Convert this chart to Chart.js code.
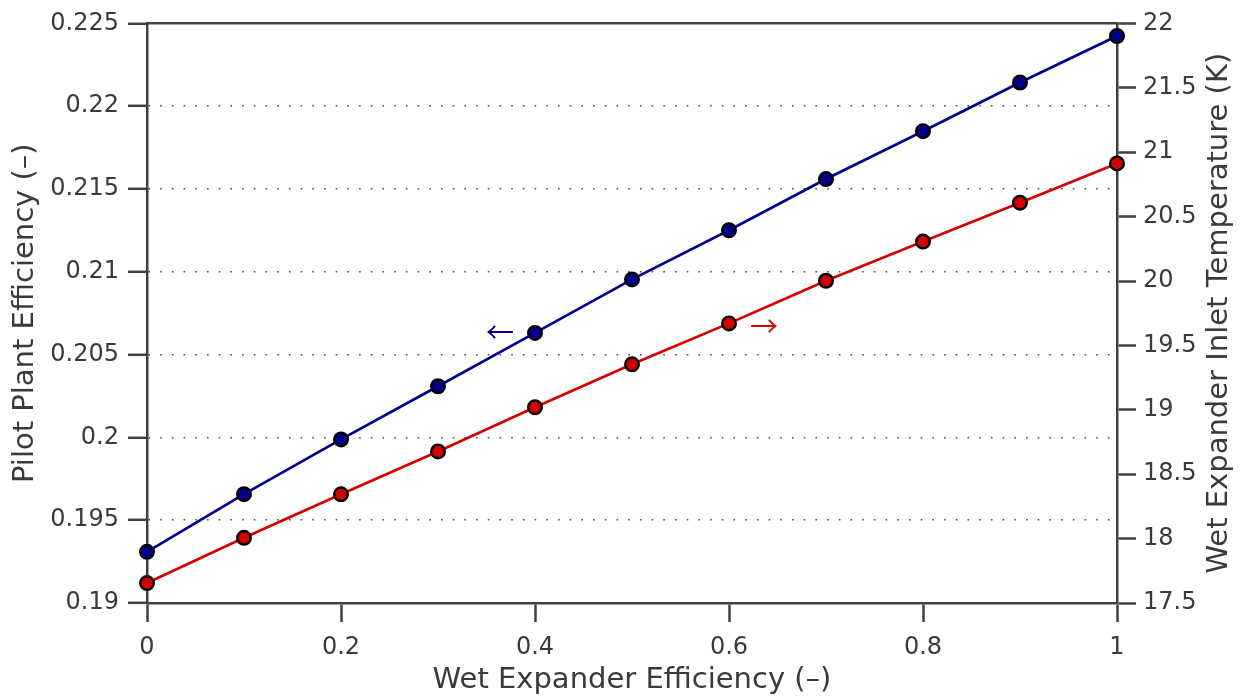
<!DOCTYPE html>
<html>
<head>
<meta charset="utf-8">
<title>Pilot Plant Efficiency vs Wet Expander Efficiency</title>
<script src="https://cdn.jsdelivr.net/npm/chart.js@4.4.1/dist/chart.umd.min.js"></script>
<style>
  html, body { margin: 0; padding: 0; background: #ffffff; }
</style>
</head>
<body>
<canvas id="effChart" width="1244" height="696"></canvas>
<script>
// ---------------------------------------------------------------------
// --- Data ---
// ---------------------------------------------------------------------

const expanderEff = [0, 0.1, 0.2, 0.3, 0.4, 0.5, 0.6, 0.7, 0.8, 0.9, 1];
const plantEff = [0.19309, 0.19657, 0.19988, 0.20309, 0.20631, 0.20954, 0.21251, 0.2156, 0.21849, 0.22143, 0.22424];
const inletTemp = [17.655, 18.006, 18.344, 18.677, 19.02, 19.353, 19.671, 20.002, 20.306, 20.608, 20.913];

const xTicks = [0, 0.2, 0.4, 0.6, 0.8, 1];
const xTickLabels = ['0', '0.2', '0.4', '0.6', '0.8', '1'];
const effTicks = [0.19, 0.195, 0.2, 0.205, 0.21, 0.215, 0.22, 0.225];
const effTickLabels = ['0.19', '0.195', '0.2', '0.205', '0.21', '0.215', '0.22', '0.225'];
const tempTicks = [17.5, 18, 18.5, 19, 19.5, 20, 20.5, 21, 21.5, 22];
const tempTickLabels = ['17.5', '18', '18.5', '19', '19.5', '20', '20.5', '21', '21.5', '22'];

// arrow markers, in data coordinates [x, y]
const effArrowAt = [0.364, 0.20633];
const tempArrowAt = [0.636, 19.645];

// ---------------------------------------------------------------------
// --- Styles ---
// ---------------------------------------------------------------------

const FONT = '"DejaVu Sans", sans-serif';
const ARROW_FONT = '"Noto Sans CJK JP", "Noto Sans CJK SC", sans-serif';
const AXIS_COLOR = '#404040';
const TEXT_COLOR = '#3a3a3a';
const BLUE = '#00008b';
const RED = '#d40000';
const TICK_LEN = 19;

Chart.defaults.font.family = FONT;
Chart.defaults.color = TEXT_COLOR;

const toPoints = (ys) => expanderEff.map((x, i) => ({ x: x, y: ys[i] }));

// solid outward ticks, solid axis line
const axisBorder = { display: true, color: AXIS_COLOR, width: 2.5 };

// ---------------------------------------------------------------------
// --- Plugin: arrows + right axis title (reads bottom to top) ---
// ---------------------------------------------------------------------

const extrasPlugin = {
    id: 'extras',
    afterDraw(chart) {
        const { ctx, chartArea, scales } = chart;
        ctx.save();
        ctx.textAlign = 'center';
        ctx.textBaseline = 'middle';
        ctx.font = '28px ' + ARROW_FONT;

        ctx.fillStyle = BLUE;
        ctx.fillText('\u2190', scales.x.getPixelForValue(effArrowAt[0]), scales.y.getPixelForValue(effArrowAt[1]));
        ctx.fillStyle = RED;
        ctx.fillText('\u2192', scales.x.getPixelForValue(tempArrowAt[0]), scales.y2.getPixelForValue(tempArrowAt[1]));

        ctx.translate(chart.width - 25, (chartArea.top + chartArea.bottom) / 2);
        ctx.rotate(-Math.PI / 2);
        ctx.font = '29px ' + FONT;
        ctx.fillStyle = TEXT_COLOR;
        ctx.fillText('Wet Expander Inlet Temperature (K)', 0, 0);
        ctx.restore();
    }
};

// ---------------------------------------------------------------------
// --- Chart ---
// ---------------------------------------------------------------------

const effChart = new Chart(document.getElementById('effChart'), {
    type: 'line',
    data: {
        datasets: [
            {
                label: 'Pilot Plant Efficiency',
                data: toPoints(plantEff),
                yAxisID: 'y',
                borderColor: BLUE,
                borderWidth: 2.7,
                pointBackgroundColor: BLUE,
                pointBorderColor: '#000000',
                pointBorderWidth: 2.4,
                pointRadius: 6.8,
                tension: 0,
                clip: false
            },
            {
                label: 'Wet Expander Inlet Temperature',
                data: toPoints(inletTemp),
                yAxisID: 'y2',
                borderColor: RED,
                borderWidth: 2.7,
                pointBackgroundColor: RED,
                pointBorderColor: '#000000',
                pointBorderWidth: 2.4,
                pointRadius: 6.8,
                tension: 0,
                clip: false
            }
        ]
    },
    options: {
        responsive: false,
        animation: false,
        devicePixelRatio: 1,
        layout: { padding: 0 },
        plugins: {
            legend: { display: false },
            tooltip: { enabled: false }
        },
        scales: {
            x: {
                type: 'linear',
                position: 'bottom',
                min: 0,
                max: 1,
                afterBuildTicks: (scale) => { scale.ticks = xTicks.map(v => ({ value: v })); },
                afterFit: (scale) => { scale.height = 93; },
                ticks: {
                    padding: 11,
                    font: { size: 24 },
                    callback: (value, index) => xTickLabels[index]
                },
                grid: {
                    drawOnChartArea: false,
                    tickLength: TICK_LEN,
                    tickColor: AXIS_COLOR,
                    tickWidth: 2.5
                },
                border: axisBorder,
                title: {
                    display: true,
                    text: 'Wet Expander Efficiency (\u2013)',
                    font: { size: 29, lineHeight: 1.1 },
                    color: TEXT_COLOR,
                    padding: { top: 0, bottom: 0 }
                }
            },
            xTop: {
                type: 'linear',
                position: 'top',
                min: 0,
                max: 1,
                afterFit: (scale) => { scale.height = 22; },
                ticks: { display: false },
                grid: { display: false, drawTicks: false },
                border: axisBorder
            },
            y: {
                type: 'linear',
                position: 'left',
                min: 0.19,
                max: 0.225,
                afterBuildTicks: (scale) => { scale.ticks = effTicks.map(v => ({ value: v })); },
                afterFit: (scale) => { scale.width = 147; },
                ticks: {
                    padding: 9,
                    font: { size: 24 },
                    callback: (value, index) => effTickLabels[index]
                },
                grid: {
                    // dotted lines only inside the box, not on the frame
                    color: (ctx) => (ctx.index === 0 || ctx.index === effTicks.length - 1) ? 'rgba(0,0,0,0)' : '#4a4a4a',
                    lineWidth: 1.6,
                    tickLength: TICK_LEN,
                    tickColor: AXIS_COLOR,
                    tickWidth: 2.5
                },
                border: { display: true, color: AXIS_COLOR, width: 2.5, dash: [1.6, 10.1] },
                title: {
                    display: true,
                    text: 'Pilot Plant Efficiency (\u2013)',
                    font: { size: 29 },
                    color: TEXT_COLOR,
                    padding: { top: 8, bottom: 0 }
                }
            },
            y2: {
                type: 'linear',
                position: 'right',
                min: 17.5,
                max: 22,
                afterBuildTicks: (scale) => { scale.ticks = tempTicks.map(v => ({ value: v })); },
                afterFit: (scale) => { scale.width = 127; },
                ticks: {
                    padding: 7,
                    font: { size: 24 },
                    callback: (value, index) => tempTickLabels[index]
                },
                grid: {
                    drawOnChartArea: false,
                    tickLength: TICK_LEN,
                    tickColor: AXIS_COLOR,
                    tickWidth: 2.5
                },
                border: axisBorder
            }
        }
    },
    plugins: [extrasPlugin]
});
</script>
</body>
</html>
